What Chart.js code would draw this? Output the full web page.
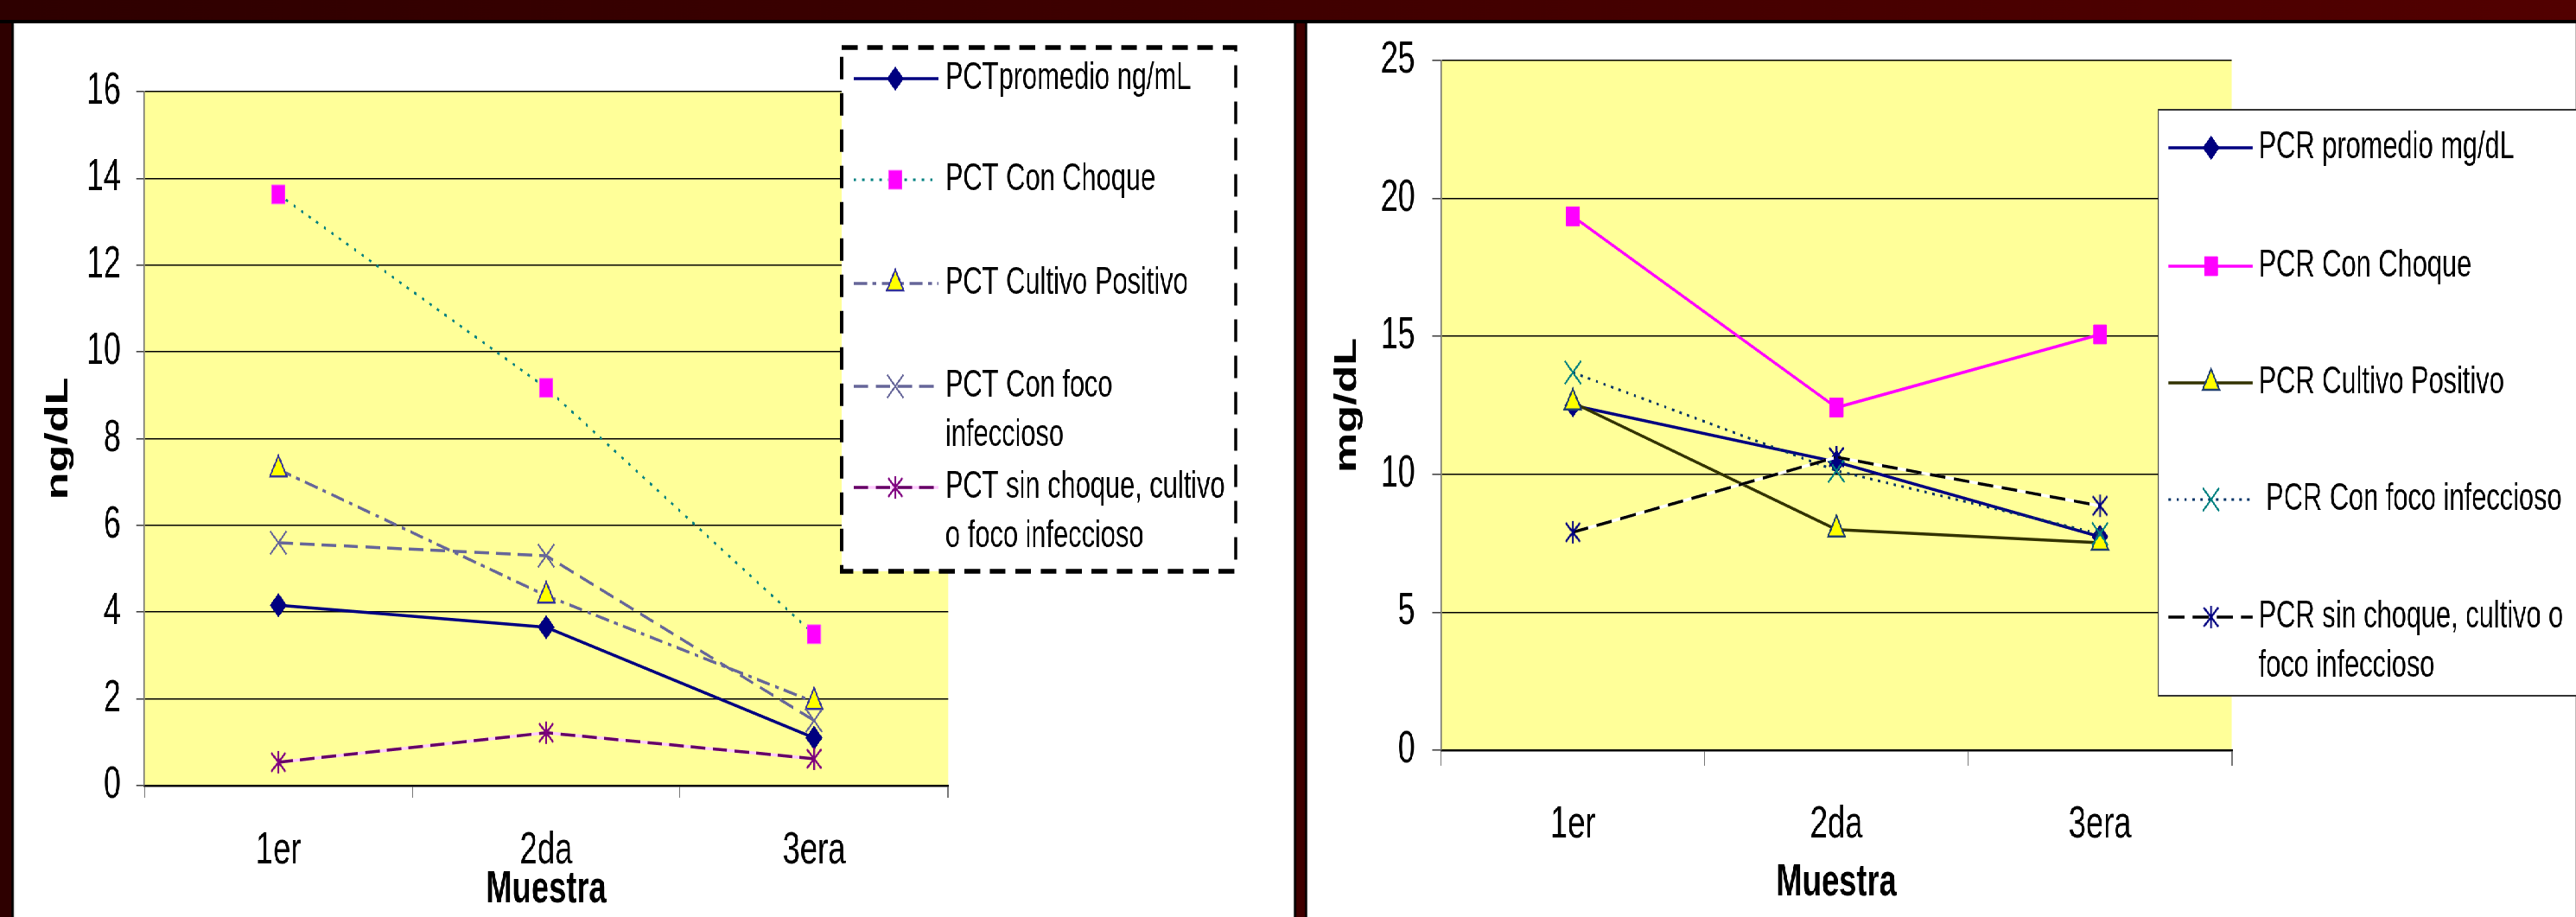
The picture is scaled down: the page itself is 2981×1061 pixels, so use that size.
<!DOCTYPE html>
<html lang="es">
<head>
<meta charset="utf-8">
<title>PCT y PCR por muestra</title>
<script src="https://cdn.jsdelivr.net/npm/chart.js@4/dist/chart.umd.min.js"></script>
<style>
  html, body { margin: 0; padding: 0; width: 2981px; height: 1061px; overflow: hidden; background: #300000; }
  #stage { position: absolute; left: 0; top: 0; height: 1061px; transform-origin: 0 0;
           background: linear-gradient(to right, #2e0000, #520000); }
  .edge  { position: absolute; background: #000; }
  .panel { position: absolute; background: #fff; overflow: hidden; }
</style>
</head>
<body>
<div id="stage"></div>
<script>
// ---- data ---------------------------------------------------------------
const categories = ['1er', '2da', '3era'];

const pctSeriesNames = [
  'PCTpromedio ng/mL',
  'PCT Con Choque',
  'PCT Cultivo Positivo',
  'PCT Con foco infeccioso',
  'PCT sin choque, cultivo o foco infeccioso'
];
const pctPromedio        = [4.16, 3.65, 1.10];
const pctConChoque       = [13.63, 9.17, 3.49];
const pctCultivoPositivo = [7.29, 4.38, 1.93];
const pctConFoco         = [5.60, 5.30, 1.50];
const pctSinChoque       = [0.54, 1.22, 0.62];
const pctAxisMax  = 16;
const pctAxisStep = 2;

const pcrSeriesNames = [
  'PCR promedio mg/dL',
  'PCR Con Choque',
  'PCR Cultivo Positivo',
  ' PCR Con foco infeccioso',
  'PCR sin choque, cultivo o foco infeccioso'
];
const pcrPromedio        = [12.50, 10.45, 7.74];
const pcrConChoque       = [19.35, 12.42, 15.07];
const pcrCultivoPositivo = [12.60, 8.00, 7.52];
const pcrConFoco         = [13.69, 10.13, 7.84];
const pcrSinChoque       = [7.90, 10.62, 8.86];
const pcrAxisMax  = 25;
const pcrAxisStep = 5;

// ---- page geometry --------------------------------------------------------
// The slide is drawn wide and squeezed horizontally by K.
const K = 0.7;
const sx = v => v / K;
const FONT = "'Liberation Sans', Arial, Helvetica, sans-serif";
Chart.defaults.font.family = FONT;

const stage = document.getElementById('stage');
stage.style.width = Math.ceil(sx(2981)) + 'px';
stage.style.transform = 'scaleX(' + K + ')';

function block(cls, x, y, w, h) {
  const d = document.createElement('div');
  d.className = cls;
  d.style.left = Math.round(sx(x)) + 'px';
  d.style.top = y + 'px';
  d.style.width = Math.round(sx(w)) + 'px';
  d.style.height = h + 'px';
  stage.appendChild(d);
  return d;
}
block('edge', 0, 23, 2981, 4);
block('edge', 13, 23, 1487, 1038);
block('edge', 1510, 23, 1471, 1038);
const leftPanel  = block('panel', 16, 27, 1481, 1034);
const rightPanel = block('panel', 1513, 27, 1468, 1034);

// ---- marker helpers -------------------------------------------------------
function asterisk(color) {
  const c = document.createElement('canvas');
  c.width = 30; c.height = 28;
  const g = c.getContext('2d');
  g.strokeStyle = color; g.lineWidth = 2.8;
  g.beginPath();
  g.moveTo(15, 1);  g.lineTo(15, 27);
  g.moveTo(3, 3);   g.lineTo(27, 25);
  g.moveTo(27, 3);  g.lineTo(3, 25);
  g.stroke();
  return c;
}

// ---- plugins --------------------------------------------------------------
const plotFill = {
  id: 'plotFill',
  beforeDraw(chart, args, opts) {
    const { ctx, chartArea: a } = chart;
    ctx.save();
    ctx.fillStyle = opts.color;
    ctx.fillRect(a.left, a.top, a.right - a.left, a.bottom - a.top);
    ctx.restore();
  }
};

// solid line under a dashed series so the dash gaps take a colour
const gapUnderlay = {
  id: 'gapUnderlay',
  beforeDatasetDraw(chart, args) {
    const ds = chart.data.datasets[args.index];
    if (!ds.gapColor) return;
    const ctx = chart.ctx, pts = args.meta.data;
    ctx.save();
    ctx.strokeStyle = ds.gapColor;
    ctx.lineWidth = ds.borderWidth;
    ctx.beginPath();
    pts.forEach((p, i) => i ? ctx.lineTo(p.x, p.y) : ctx.moveTo(p.x, p.y));
    ctx.stroke();
    ctx.restore();
  }
};

function wrapText(ctx, text, maxW) {
  const words = text.split(' ');
  const lines = [];
  let cur = null;
  for (const w of words) {
    const next = cur === null ? w : cur + ' ' + w;
    if (cur !== null && cur.trim() !== '' && ctx.measureText(next).width > maxW) {
      lines.push(cur); cur = w;
    } else cur = next;
  }
  lines.push(cur);
  return lines;
}

const boxLegend = {
  id: 'boxLegend',
  afterDraw(chart, args, o) {
    const ctx = chart.ctx;
    ctx.save();
    ctx.fillStyle = '#fff';
    ctx.fillRect(o.x0, o.y0, o.x1 - o.x0, o.y1 - o.y0);
    ctx.strokeStyle = o.borderColor;
    ctx.lineWidth = o.borderWidth;
    ctx.setLineDash(o.borderDash || []);
    ctx.strokeRect(o.x0, o.y0, o.x1 - o.x0, o.y1 - o.y0);
    ctx.setLineDash([]);
    ctx.font = o.fontSize + 'px ' + FONT;
    ctx.textBaseline = 'middle';
    ctx.textAlign = 'left';
    chart.data.datasets.forEach((ds, i) => {
      const y = o.rows[i];
      if (ds.gapColor) {
        ctx.strokeStyle = ds.gapColor; ctx.lineWidth = ds.borderWidth;
        ctx.beginPath(); ctx.moveTo(o.sample[0], y); ctx.lineTo(o.sample[1], y); ctx.stroke();
      }
      ctx.strokeStyle = ds.borderColor; ctx.lineWidth = ds.borderWidth;
      ctx.setLineDash(ds.borderDash || []);
      ctx.beginPath(); ctx.moveTo(o.sample[0], y); ctx.lineTo(o.sample[1], y); ctx.stroke();
      ctx.setLineDash([]);
      ctx.fillStyle = ds.pointBackgroundColor || ds.pointBorderColor;
      ctx.strokeStyle = ds.pointBorderColor;
      ctx.lineWidth = ds.pointBorderWidth;
      Chart.helpers.drawPoint(ctx, {
        pointStyle: ds.pointStyle, rotation: 0,
        radius: ds.pointRadius, borderWidth: ds.pointBorderWidth
      }, o.markerX, y);
      ctx.fillStyle = '#000';
      wrapText(ctx, ds.label, o.wrapWidth).forEach((line, j) => {
        ctx.fillText(line, o.textX, y + j * o.lineGap);
      });
    });
    ctx.restore();
  }
};

// ---- chart builder --------------------------------------------------------
function buildChart(panel, cfg) {
  const canvas = document.createElement('canvas');
  panel.appendChild(canvas);
  const W = panel.clientWidth, H = panel.clientHeight;
  const a = cfg.area;
  const datasets = cfg.values.map((vals, i) => Object.assign({
    label: cfg.names[i],
    data: vals,
    fill: false,
    tension: 0,
    borderWidth: 3.5,
    borderCapStyle: 'butt',
    pointHoverRadius: cfg.looks[i].pointRadius,
    clip: false,
    order: -i
  }, cfg.looks[i]));

  return new Chart(canvas, {
    type: 'line',
    data: { labels: categories, datasets },
    options: {
      responsive: true,
      maintainAspectRatio: false,
      animation: false,
      devicePixelRatio: 1,
      events: [],
      layout: { padding: { left: 0, top: a.top, right: W - a.right, bottom: 0 } },
      plugins: {
        legend: { display: false },
        tooltip: { enabled: false },
        plotFill: { color: '#FFFF99' },
        boxLegend: cfg.legend
      },
      scales: {
        x: {
          type: 'category',
          offset: true,
          grid: { offset: true, drawOnChartArea: false, drawTicks: true,
                  tickLength: cfg.xTickLen, color: '#7a7a7a', lineWidth: 2 },
          border: { display: true, color: '#000', width: 2.5 },
          ticks: { color: '#000', font: { size: 52 }, padding: cfg.xLabelPad,
                   maxRotation: 0, autoSkip: false },
          title: { display: true, text: 'Muestra', color: '#000',
                   font: { size: 52, weight: 'bold' },
                   padding: { top: 0, bottom: cfg.xTitlePad } },
          afterFit(s) { s.height = H - a.bottom; s.paddingLeft = 0; s.paddingRight = 0; }
        },
        y: {
          min: 0,
          max: cfg.yMax,
          ticks: { stepSize: cfg.yStep, color: '#000', font: { size: 51 }, padding: cfg.yLabelPad },
          grid: { color: '#000', lineWidth: 1.6, drawTicks: true,
                  tickLength: cfg.yTickLen, tickColor: '#444' },
          border: { display: true, color: '#6e6e6e', width: 2.5 },
          title: { display: true, text: cfg.yTitle, color: '#000',
                   font: { size: 52, weight: 'bold' },
                   padding: { top: cfg.yTitlePad, bottom: 0 } },
          afterFit(s) { s.width = a.left; s.paddingTop = 0; s.paddingBottom = 0; }
        }
      }
    },
    plugins: [plotFill, gapUnderlay, boxLegend]
  });
}

// ---- PCT (ng/dL) ----------------------------------------------------------
buildChart(leftPanel, {
  names: pctSeriesNames,
  values: [pctPromedio, pctConChoque, pctCultivoPositivo, pctConFoco, pctSinChoque],
  looks: [
    { borderColor: '#000080', pointStyle: 'rectRot', pointRadius: 13.5,
      pointBackgroundColor: '#000080', pointBorderColor: '#000080', pointBorderWidth: 1 },
    { borderColor: '#008080', borderWidth: 3, borderDash: [4, 10], pointStyle: 'rect', pointRadius: 15.4,
      pointBackgroundColor: '#FF00FF', pointBorderColor: '#FF55FF', pointBorderWidth: 1 },
    { borderColor: '#666699', borderDash: [22, 9, 6, 9], pointStyle: 'triangle', pointRadius: 16,
      pointBackgroundColor: '#FFFF00', pointBorderColor: '#333399', pointBorderWidth: 2.5 },
    { borderColor: '#666699', borderDash: [24, 12], pointStyle: 'crossRot', pointRadius: 19,
      pointBackgroundColor: '#666699', pointBorderColor: '#666699', pointBorderWidth: 2.5 },
    { borderColor: '#660066', borderDash: [24, 12], gapColor: '#FFCCFF',
      pointStyle: asterisk('#800080'), pointRadius: 14,
      pointBackgroundColor: '#800080', pointBorderColor: '#800080', pointBorderWidth: 2 }
  ],
  yMax: pctAxisMax, yStep: pctAxisStep, yTitle: 'ng/dL',
  area: { left: sx(151), right: sx(1081), top: 79, bottom: 882 },
  yLabelPad: 25, yTickLen: 14, yTitlePad: 42,
  xTickLen: 14, xLabelPad: 30, xTitlePad: 0,
  legend: {
    x0: sx(958), x1: sx(1414), y0: 28, y1: 634,
    borderColor: '#000', borderWidth: 5.5, borderDash: [26, 16],
    rows: [64, 181, 301, 420, 537], lineGap: 57,
    sample: [sx(972), sx(1070)], markerX: sx(1020), textX: sx(1078),
    wrapWidth: 480, fontSize: 44
  }
});

// ---- PCR (mg/dL) ----------------------------------------------------------
buildChart(rightPanel, {
  names: pcrSeriesNames,
  values: [pcrPromedio, pcrConChoque, pcrCultivoPositivo, pcrConFoco, pcrSinChoque],
  looks: [
    { borderColor: '#000080', pointStyle: 'rectRot', pointRadius: 13.5,
      pointBackgroundColor: '#000080', pointBorderColor: '#000080', pointBorderWidth: 1 },
    { borderColor: '#FF00FF', pointStyle: 'rect', pointRadius: 15.4,
      pointBackgroundColor: '#FF00FF', pointBorderColor: '#FF00FF', pointBorderWidth: 1 },
    { borderColor: '#333300', pointStyle: 'triangle', pointRadius: 16,
      pointBackgroundColor: '#FFFF00', pointBorderColor: '#1F3F6F', pointBorderWidth: 2.5 },
    { borderColor: '#003366', borderWidth: 3, borderDash: [4, 9], pointStyle: 'crossRot', pointRadius: 19,
      pointBackgroundColor: '#008080', pointBorderColor: '#008080', pointBorderWidth: 2.5 },
    { borderColor: '#000000', borderDash: [26, 14], gapColor: '#FFFFFF',
      pointStyle: asterisk('#000080'), pointRadius: 14,
      pointBackgroundColor: '#000080', pointBorderColor: '#000080', pointBorderWidth: 2 }
  ],
  yMax: pcrAxisMax, yStep: pcrAxisStep, yTitle: 'mg/dL',
  area: { left: sx(155), right: sx(1070), top: 43, bottom: 841 },
  yLabelPad: 28, yTickLen: 15, yTitlePad: 35,
  xTickLen: 18, xLabelPad: 37, xTitlePad: 8,
  legend: {
    x0: sx(985), x1: sx(1490), y0: 100, y1: 778,
    borderColor: '#333', borderWidth: 2, borderDash: [],
    rows: [144, 281, 416, 551, 687], lineGap: 57,
    sample: [sx(997), sx(1094)], markerX: sx(1046), textX: sx(1101),
    wrapWidth: 560, fontSize: 44
  }
});
</script>
</body>
</html>
